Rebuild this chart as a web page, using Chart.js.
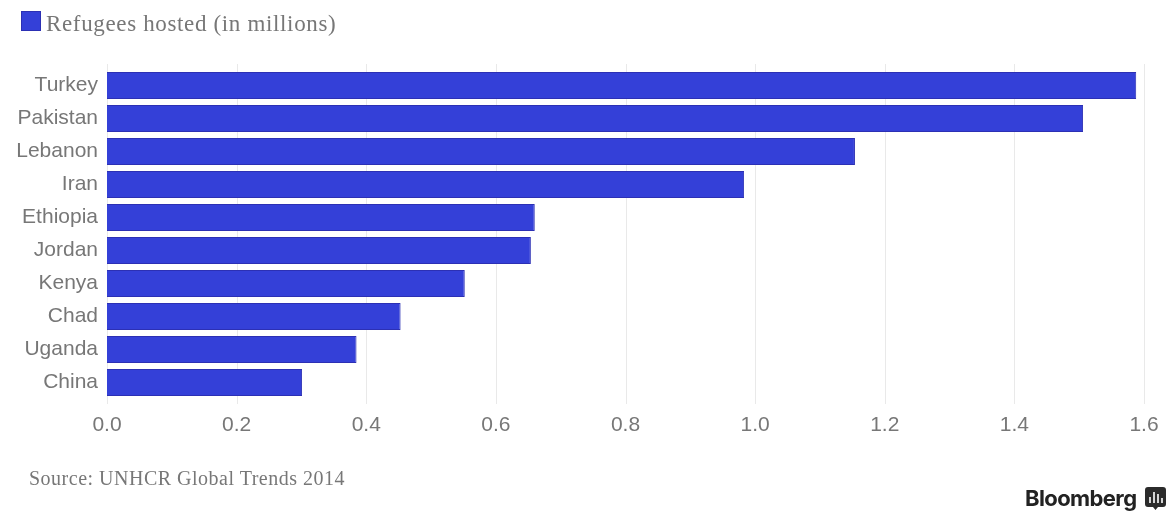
<!DOCTYPE html>
<html>
<head>
<meta charset="utf-8">
<style>
  html, body { margin: 0; padding: 0; background: #fff; }
  #wrap { position: relative; width: 1173px; height: 528px; overflow: hidden; }
  #swatch { position: absolute; left: 21px; top: 11px; width: 18px; height: 18px; background: #3440d8; border: 1px solid #2c30b4; }
  #series { position: absolute; left: 46px; top: 11px; font: 23px "Liberation Serif", serif; color: #777; letter-spacing: 0.65px; white-space: nowrap; }
  #source { position: absolute; left: 29px; top: 467px; font: 20px "Liberation Serif", serif; color: #777; letter-spacing: 0.5px; white-space: nowrap; }
  #brand { position: absolute; left: 1025px; top: 485px; font: bold 22px "Inter", sans-serif; color: #222; letter-spacing: -0.6px; white-space: nowrap; }
  #logo { position: absolute; left: 1145px; top: 487px; }
</style>
</head>
<body>
<div id="wrap">
  <canvas id="chart" width="1173" height="528"></canvas>
  <div id="swatch"></div>
  <div id="series">Refugees hosted (in millions)</div>
  <div id="source">Source: UNHCR Global Trends 2014</div>
  <div id="brand">Bloomberg</div>
  <svg id="logo" width="21" height="24" viewBox="0 0 21 24">
    <path d="M3 0H18Q21 0 21 3V17Q21 20 18 20H13L10.5 23L8 20H3Q0 20 0 17V3Q0 0 3 0Z" fill="#2b2b2b"/>
    <path d="M5 10V16M9 5V16M13 7V16M17 11V16" stroke="#fff" stroke-width="1.6"/>
  </svg>
</div>
<script src="https://cdn.jsdelivr.net/npm/chart.js@4/dist/chart.umd.js"></script>
<script>
var countries = ["Turkey", "Pakistan", "Lebanon", "Iran", "Ethiopia", "Jordan", "Kenya", "Chad", "Uganda", "China"];
var refugees = [1.588, 1.506, 1.154, 0.983, 0.66, 0.654, 0.552, 0.453, 0.385, 0.301];
var xTicks = [0, 0.2, 0.4, 0.6, 0.8, 1.0, 1.2, 1.4, 1.6];
var seriesName = "Refugees hosted (in millions)";

var barFill = "#3440d8";
var barEdge = "#2c30b4";
var grey = "#777";

// gridlines poke out a little above and below the bars
var longGrid = {
	id: "longGrid",
	beforeDatasetsDraw: function(chart) {
		var ctx = chart.ctx;
		var x = chart.scales.x;
		ctx.save();
		ctx.strokeStyle = "#e9e9e9";
		ctx.lineWidth = 1;
		xTicks.forEach(function(t) {
			var px = Math.round(x.getPixelForValue(t)) + 0.5;
			ctx.beginPath();
			ctx.moveTo(px, chart.chartArea.top - 5);
			ctx.lineTo(px, chart.chartArea.bottom + 5);
			ctx.stroke();
		});
		ctx.restore();
	}
};

var chart = new Chart(document.getElementById("chart"), {
	type: "bar",
	data: {
		labels: countries,
		datasets: [{
			label: seriesName,
			data: refugees,
			backgroundColor: barFill,
			borderColor: barEdge,
			borderWidth: 1,
			categoryPercentage: 1,
			barPercentage: 0.82
		}]
	},
	options: {
		indexAxis: "y",
		responsive: false,
		animation: false,
		layout: { padding: { left: 10, top: 69, right: 29, bottom: 79 } },
		plugins: {
			tooltip: { enabled: false },
			legend: { display: false }
		},
		scales: {
			x: {
				type: "linear",
				min: 0,
				max: 1.6,
				afterBuildTicks: function(scale) {
					scale.ticks = xTicks.map(function(v) { return { value: v }; });
				},
				afterFit: function(scale) { scale.height = 50; },
				grid: { display: false },
				border: { display: false },
				ticks: {
					color: grey,
					padding: 6,
					maxRotation: 0,
					font: { family: "Liberation Sans", size: 21 },
					callback: function(v) { return v.toFixed(1); }
				}
			},
			y: {
				afterFit: function(scale) { scale.width = 97; },
				grid: { display: false },
				border: { display: false },
				ticks: {
					color: grey,
					padding: 1,
					font: { family: "Liberation Sans", size: 21 }
				}
			}
		}
	},
	plugins: [longGrid]
});
</script>
</body>
</html>
